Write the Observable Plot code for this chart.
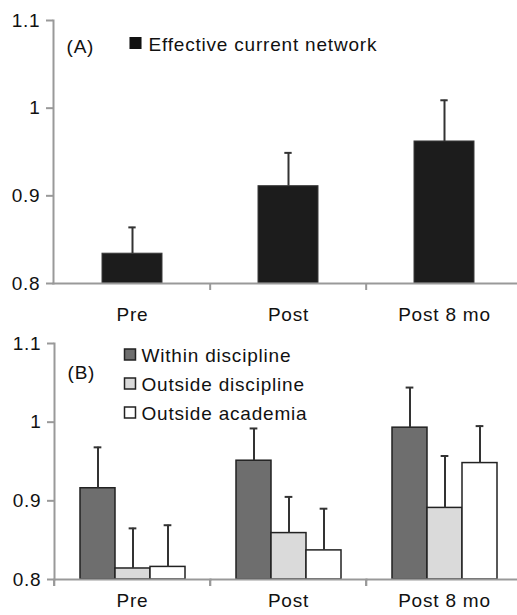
<!DOCTYPE html>
<html><head><meta charset="utf-8">
<script src="https://cdn.jsdelivr.net/npm/d3@7"></script>
<script src="https://cdn.jsdelivr.net/npm/@observablehq/plot@0.6"></script>
<style>
body{margin:0;background:#fff;}
#chart svg{display:block;}
</style></head><body><div id="chart"></div>
<script>
// ---- data ----
const categories = ["Pre", "Post", "Post 8 mo"];
const networkMeans = [0.834, 0.911, 0.962];
const networkErrors = [0.030, 0.038, 0.047];
const seriesB = ["Within discipline", "Outside discipline", "Outside academia"];
const withinMeans = [0.916, 0.951, 0.993];
const withinErrors = [0.052, 0.041, 0.051];
const outsideDiscMeans = [0.814, 0.859, 0.891];
const outsideDiscErrors = [0.051, 0.046, 0.066];
const outsideAcadMeans = [0.816, 0.837, 0.948];
const outsideAcadErrors = [0.053, 0.053, 0.047];
const yTicks = [0.8, 0.9, 1, 1.1];
const colorsB = ["#6e6e6e", "#dadada", "#ffffff"];

// ---- layout ----
const W = 517, ML = 53, MR = -6;
const font = "'Liberation Sans', Arial, Helvetica, sans-serif";
const yMin = yTicks[0], yMax = yTicks[yTicks.length - 1];
const step = (W - ML - MR) / categories.length;
const axisGray = "#999";
const errColor = "#333";
const baseStyle = {fontFamily: font, fontSize: "19px", letterSpacing: "0.8px", color: "#111", background: "#fff", overflow: "visible"};

const dataA = categories.map((c, i) => ({category: c, value: networkMeans[i], err: networkErrors[i]}));

const plotA = Plot.plot({
  width: W, height: 325, marginLeft: ML, marginRight: MR, marginTop: 20, marginBottom: 42,
  style: baseStyle,
  x: {domain: categories, padding: 0, axis: null, label: null},
  y: {domain: [yMin, yMax], axis: null, label: null},
  marks: [
    Plot.barY(dataA, {x: "category", y1: yMin, y2: "value", fill: "#1c1c1c", stroke: "#3a3a3a", strokeWidth: 1, insetLeft: 48, insetRight: 48}),
    Plot.ruleX(dataA, {x: "category", y1: "value", y2: d => d.value + d.err, stroke: errColor, strokeWidth: 2}),
    Plot.tickY(dataA, {x: "category", y: d => d.value + d.err, stroke: errColor, strokeWidth: 2, insetLeft: step / 2 - 4, insetRight: step / 2 - 4}),
    Plot.frame({anchor: "left", stroke: axisGray, strokeWidth: 2}),
    Plot.frame({anchor: "bottom", stroke: axisGray, strokeWidth: 2}),
    Plot.axisY({ticks: yTicks, tickSize: 7, tickPadding: 6, tickFormat: d => String(d), stroke: axisGray, strokeWidth: 2, fill: "#111", label: null}),
    Plot.axisX({tickSize: 0, tickPadding: 24, fill: "#111", label: null}),
    Plot.axisX(categories.slice(1), {tickSize: 7, tickFormat: () => "", dx: -step / 2, stroke: axisGray, strokeWidth: 2, label: null}),
    Plot.text(["(A)"], {frameAnchor: "top-left", dx: 13, dy: 26, text: d => d, textAnchor: "start", lineAnchor: "middle", fill: "#111"}),
    Plot.dot(["Effective current network"], {frameAnchor: "top-left", dx: 82, dy: 22.5, symbol: "square", r: 6.8, fill: "#111", stroke: null}),
    Plot.text(["Effective current network"], {frameAnchor: "top-left", dx: 95, dy: 24.5, text: d => d, textAnchor: "start", lineAnchor: "middle", fill: "#111"})
  ]
});

const meansB = [withinMeans, outsideDiscMeans, outsideAcadMeans];
const errorsB = [withinErrors, outsideDiscErrors, outsideAcadErrors];
const dataB = [];
categories.forEach((c, i) => seriesB.forEach((s, j) => dataB.push({category: c, series: s, value: meansB[j][i], err: errorsB[j][i]})));
const padOuterB = 0.72;
const bandB = step / (seriesB.length + 2 * padOuterB);

const legendB = seriesB.flatMap((s, i) => [
  Plot.dot([s], {fx: () => categories[0], frameAnchor: "top-left", dx: 75.5, dy: 11 + 29 * i, symbol: "square", r: 6.2, fill: colorsB[i], stroke: "#222", strokeWidth: 1.5}),
  Plot.text([s], {fx: () => categories[0], frameAnchor: "top-left", dx: 87, dy: 12 + 29 * i, text: d => d, textAnchor: "start", lineAnchor: "middle", fill: "#111"})
]);

const plotB = Plot.plot({
  width: W, height: 290, marginLeft: ML, marginRight: MR, marginTop: 18, marginBottom: 36,
  style: baseStyle,
  fx: {domain: categories, padding: 0, axis: null, label: null},
  x: {domain: seriesB, paddingInner: 0, paddingOuter: padOuterB, axis: null, label: null},
  y: {domain: [yMin, yMax], axis: null, label: null},
  color: {domain: seriesB, range: colorsB},
  marks: [
    Plot.barY(dataB, {fx: "category", x: "series", y1: yMin, y2: "value", fill: "series", stroke: "#222", strokeWidth: 1.5}),
    Plot.ruleX(dataB, {fx: "category", x: "series", y1: "value", y2: d => d.value + d.err, stroke: errColor, strokeWidth: 2}),
    Plot.tickY(dataB, {fx: "category", x: "series", y: d => d.value + d.err, stroke: errColor, strokeWidth: 2, insetLeft: bandB / 2 - 4, insetRight: bandB / 2 - 4}),
    Plot.frame({anchor: "left", facetAnchor: "left", stroke: axisGray, strokeWidth: 2}),
    Plot.frame({anchor: "bottom", stroke: axisGray, strokeWidth: 2}),
    Plot.axisY({ticks: yTicks, tickSize: 7, tickPadding: 6, tickFormat: d => String(d), stroke: axisGray, strokeWidth: 2, fill: "#111", label: null}),
    Plot.axisFx({anchor: "bottom", tickSize: 0, tickPadding: 14, fill: "#111", label: null}),
    Plot.axisFx(categories.slice(1), {anchor: "bottom", tickSize: 7, tickFormat: () => "", dx: -step / 2, stroke: axisGray, strokeWidth: 2, label: null}),
    Plot.text(["(B)"], {fx: () => categories[0], frameAnchor: "top-left", dx: 13, dy: 29, text: d => d, textAnchor: "start", lineAnchor: "middle", fill: "#111"}),
    ...legendB
  ]
});

document.getElementById("chart").append(plotA, plotB);
</script>
</body></html>
